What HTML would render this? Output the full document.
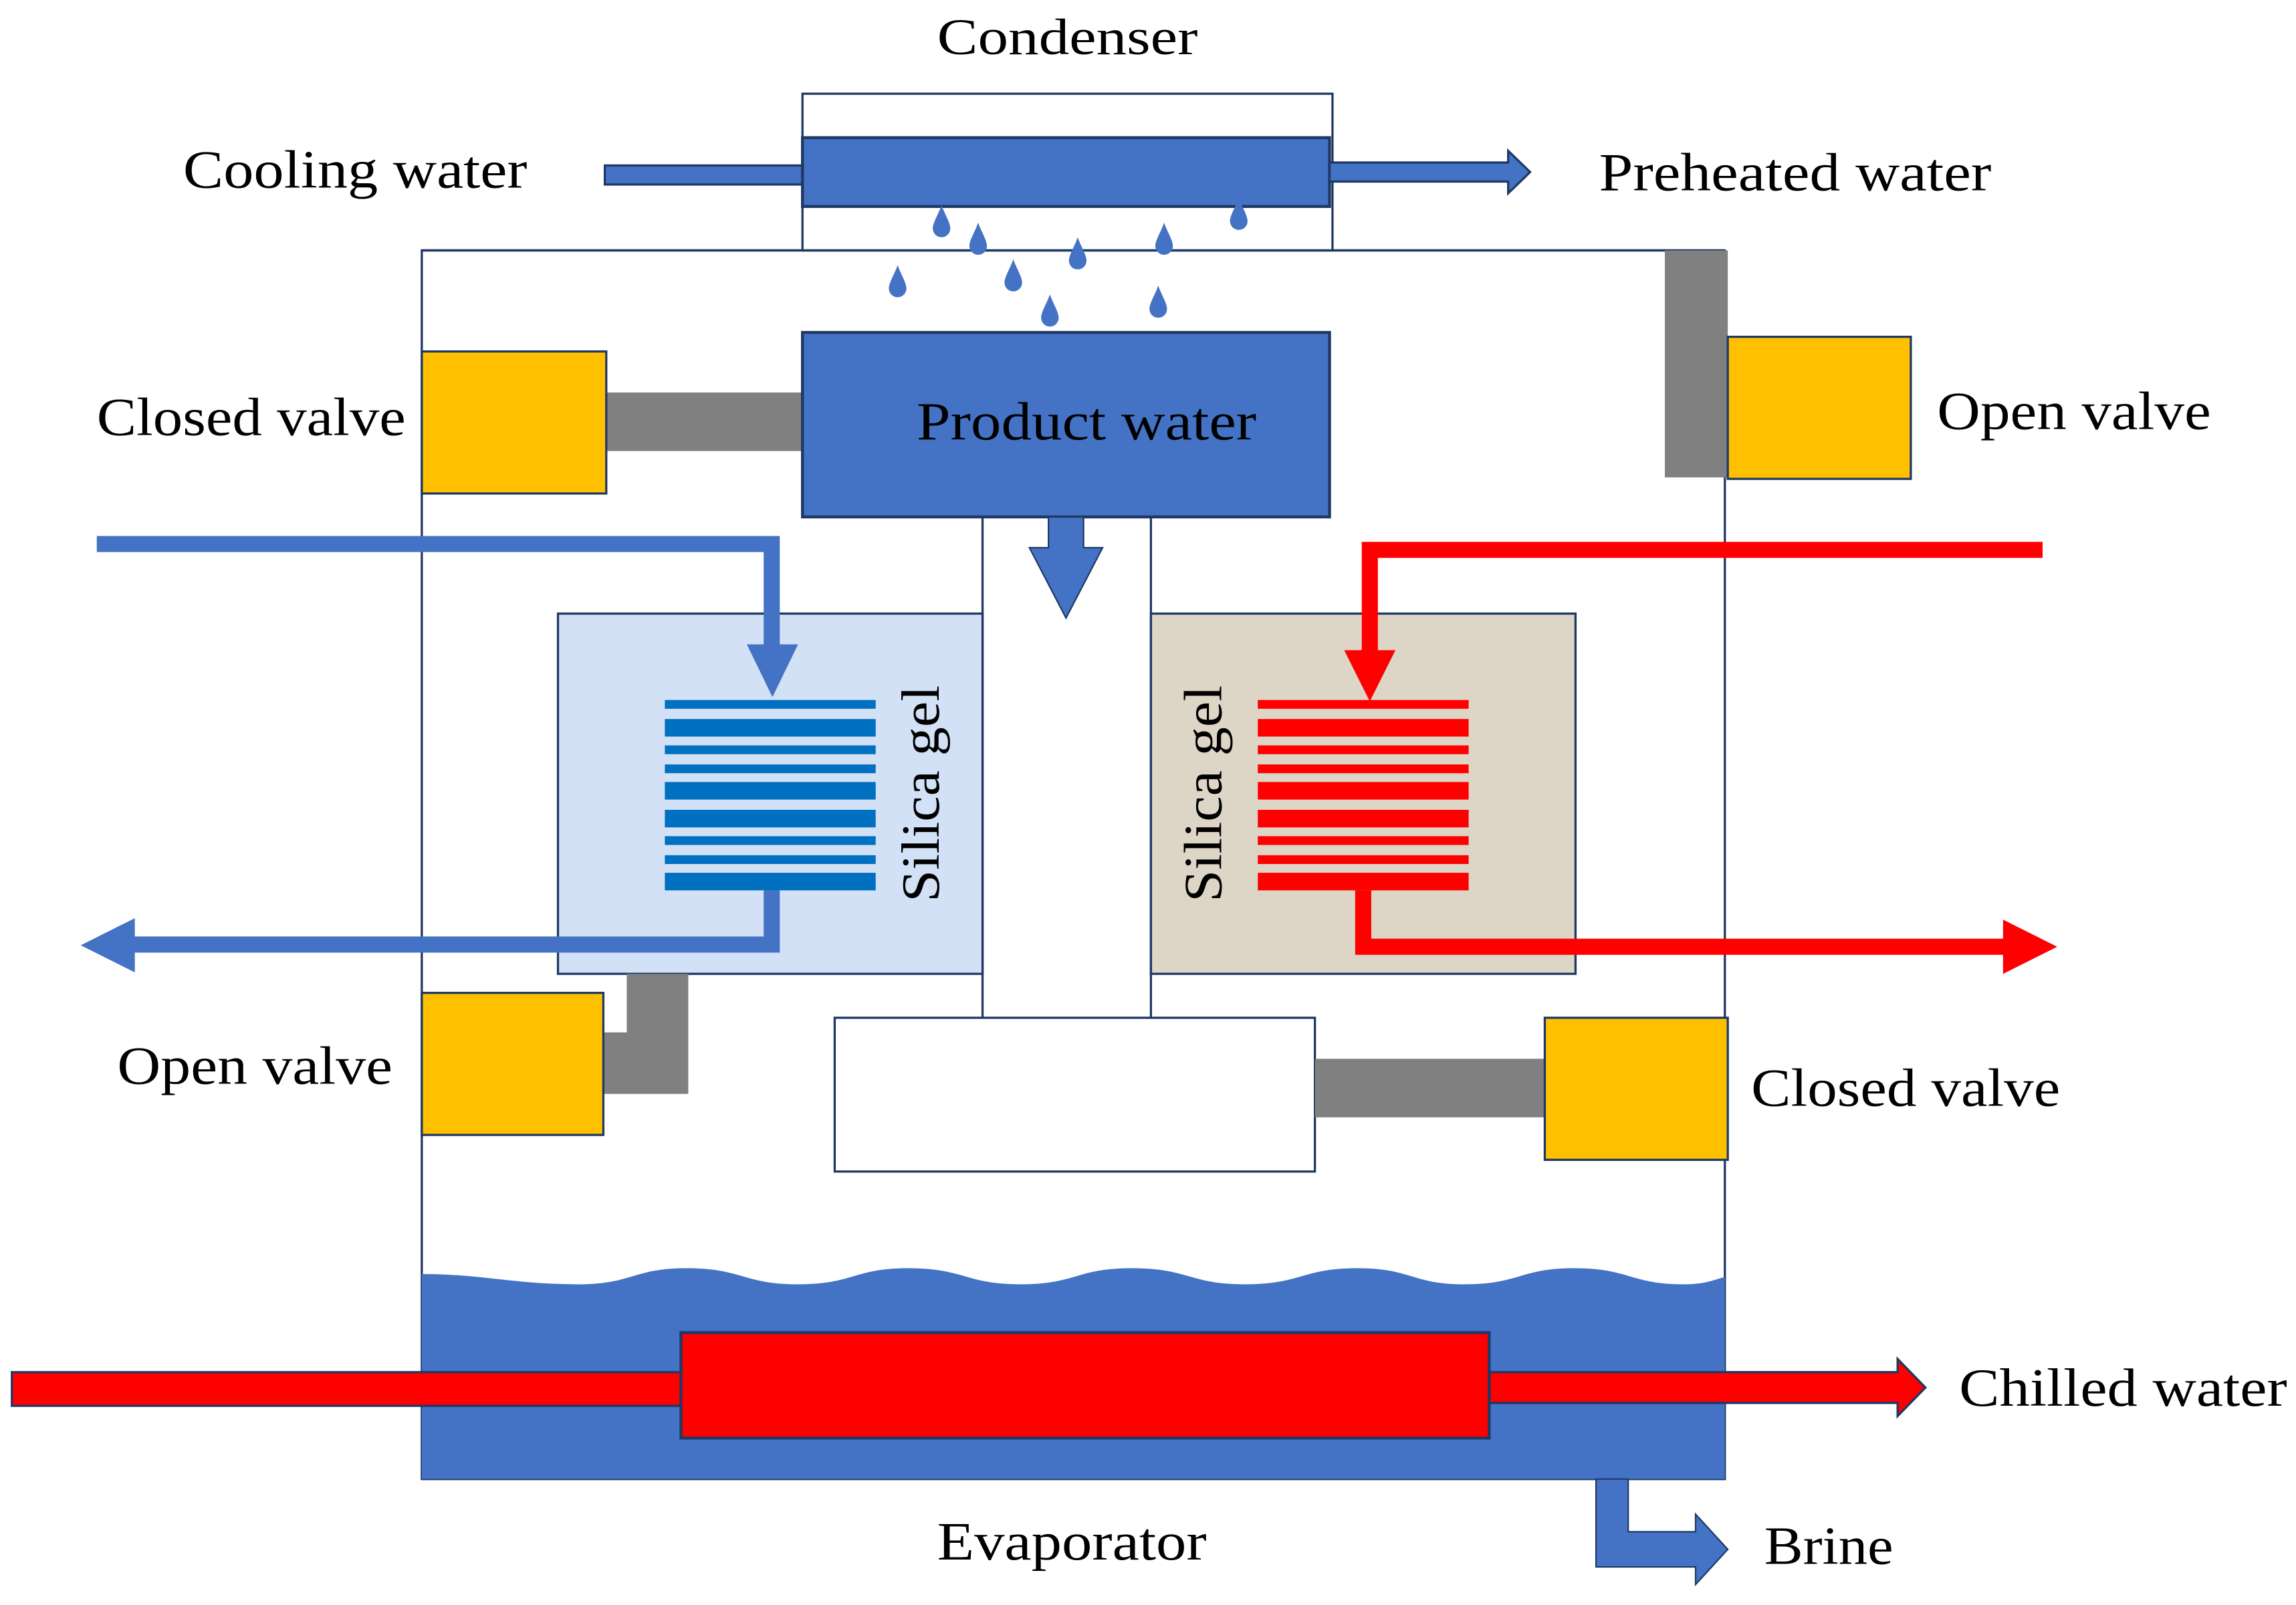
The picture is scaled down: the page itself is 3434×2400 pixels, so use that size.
<!DOCTYPE html>
<html><head><meta charset="utf-8"><style>html,body{margin:0;padding:0;background:#fff}svg{display:block}text{font-family:"Liberation Serif",serif;fill:#000}</style></head><body>
<svg width="3434" height="2400" viewBox="0 0 1568 1096" xmlns="http://www.w3.org/2000/svg">
<defs>
<path id="drop" d="M0,-10 C2,-4 6,2 6,6 A6,6 0 0 1 -6,6 C-6,2 -2,-4 0,-10Z" fill="#4472C4"/>
</defs>
<rect width="1568" height="1096" fill="#fff"/>
<!-- main vessel -->
<rect x="288" y="171" width="890" height="839" fill="#fff" stroke="#1F3864" stroke-width="1.5"/>
<!-- condenser -->
<rect x="548" y="64" width="362" height="107" fill="#fff" stroke="#1F3864" stroke-width="1.5"/>
<rect x="413" y="113" width="136" height="13" fill="#4472C4" stroke="#1F3864" stroke-width="1.5"/>
<rect x="548" y="94" width="360" height="47" fill="#4472C4" stroke="#1F3864" stroke-width="2"/>
<path d="M908,111 H1030 V103 L1045,117.5 L1030,132 V124 H908Z" fill="#4472C4" stroke="#1F3864" stroke-width="1.5"/>
<line x1="288" y1="171" x2="1178" y2="171" stroke="#1F3864" stroke-width="1.5"/>
<text x="640" y="37" font-size="35" textLength="178" lengthAdjust="spacingAndGlyphs">Condenser</text>
<text x="125" y="128" font-size="37" textLength="235" lengthAdjust="spacingAndGlyphs">Cooling water</text>
<text x="1092" y="130" font-size="37" textLength="268" lengthAdjust="spacingAndGlyphs">Preheated water</text>
<!-- droplets -->
<use href="#drop" x="643" y="150"/><use href="#drop" x="668" y="162"/><use href="#drop" x="736" y="172"/>
<use href="#drop" x="795" y="162"/><use href="#drop" x="846" y="145"/><use href="#drop" x="613" y="191"/>
<use href="#drop" x="692" y="187"/><use href="#drop" x="717" y="211"/><use href="#drop" x="791" y="205"/>
<!-- product water -->
<rect x="414" y="268" width="134" height="40" fill="#808080"/>
<rect x="288" y="240" width="126" height="97" fill="#FFC000" stroke="#1F3864" stroke-width="1.5"/>
<rect x="548" y="227" width="360" height="126" fill="#4472C4" stroke="#1F3864" stroke-width="2"/>
<text x="626" y="300" font-size="37" textLength="232" lengthAdjust="spacingAndGlyphs">Product water</text>
<text x="66" y="297" font-size="37" textLength="211" lengthAdjust="spacingAndGlyphs">Closed valve</text>
<!-- top right valve -->
<rect x="1137" y="171" width="43" height="155" fill="#808080"/>
<rect x="1180" y="230" width="125" height="97" fill="#FFC000" stroke="#1F3864" stroke-width="1.5"/>
<text x="1323" y="293" font-size="37" textLength="187" lengthAdjust="spacingAndGlyphs">Open valve</text>
<!-- center channel -->
<line x1="671" y1="353" x2="671" y2="695" stroke="#1F3864" stroke-width="1.5"/>
<line x1="786" y1="353" x2="786" y2="695" stroke="#1F3864" stroke-width="1.5"/>
<path d="M716,353 H740 V374 H753 L728,422 L703,374 H716Z" fill="#4472C4" stroke="#1F3864" stroke-width="1"/>
<!-- silica boxes -->
<rect x="381" y="419" width="290" height="246" fill="#d3e1f6" stroke="#1F3864" stroke-width="1.5"/>
<rect x="786" y="419" width="290" height="246" fill="#ddd5c6" stroke="#1F3864" stroke-width="1.5"/>
<g fill="#0070C0">
<rect x="454" y="478" width="144" height="6"/><rect x="454" y="491" width="144" height="12"/><rect x="454" y="509" width="144" height="6"/>
<rect x="454" y="522" width="144" height="6"/><rect x="454" y="534" width="144" height="12"/><rect x="454" y="553" width="144" height="12"/>
<rect x="454" y="571" width="144" height="6"/><rect x="454" y="584" width="144" height="6"/><rect x="454" y="596" width="144" height="12"/>
</g>
<g fill="#FF0000">
<rect x="859" y="478" width="144" height="6"/><rect x="859" y="491" width="144" height="12"/><rect x="859" y="509" width="144" height="6"/>
<rect x="859" y="522" width="144" height="6"/><rect x="859" y="534" width="144" height="12"/><rect x="859" y="553" width="144" height="12"/>
<rect x="859" y="571" width="144" height="6"/><rect x="859" y="584" width="144" height="6"/><rect x="859" y="596" width="144" height="12"/>
</g>
<text transform="translate(641,616) rotate(-90)" font-size="37" textLength="148" lengthAdjust="spacingAndGlyphs">Silica gel</text>
<text transform="translate(834,616) rotate(-90)" font-size="37" textLength="148" lengthAdjust="spacingAndGlyphs">Silica gel</text>
<!-- blue pipes -->
<path d="M66,371.5 H527 V460" fill="none" stroke="#4472C4" stroke-width="11"/>
<path d="M510,440 H545 L527.5,476Z" fill="#4472C4"/>
<path d="M527,608 V645 H88" fill="none" stroke="#4472C4" stroke-width="11"/>
<path d="M92,627 V664 L55,645.5Z" fill="#4472C4"/>
<!-- red pipes -->
<path d="M1395,375.5 H935.5 V455" fill="none" stroke="#FF0000" stroke-width="11"/>
<path d="M918,444 H953 L935.5,479Z" fill="#FF0000"/>
<path d="M931,608 V646.5 H1372" fill="none" stroke="#FF0000" stroke-width="11"/>
<path d="M1368,628 V665 L1405,646.5Z" fill="#FF0000"/>
<!-- bottom left valve -->
<path d="M428,665 H470 V747 H412 V705 H428Z" fill="#808080"/>
<rect x="288" y="678" width="124" height="97" fill="#FFC000" stroke="#1F3864" stroke-width="1.5"/>
<text x="80" y="740" font-size="37" textLength="188" lengthAdjust="spacingAndGlyphs">Open valve</text>
<!-- bottom center -->
<rect x="570" y="695" width="328" height="105" fill="#fff" stroke="#1F3864" stroke-width="1.5"/>
<rect x="898" y="723" width="157" height="40" fill="#808080"/>
<rect x="1055" y="695" width="125" height="97" fill="#FFC000" stroke="#1F3864" stroke-width="1.5"/>
<text x="1196" y="755" font-size="37" textLength="211" lengthAdjust="spacingAndGlyphs">Closed valve</text>
<!-- evaporator water -->
<path d="M288,870 C330,870 350,877 395,877 C432,877 432,866 469,866 C507,866 507,877 545,877 C583,877 583,866 620,866 C659,866 659,877 697,877 C735,877 735,866 773,866 C812,866 812,877 850,877 C889,877 889,866 927,866 C964,866 964,877 1000,877 C1038,877 1038,866 1075,866 C1113,866 1113,877 1150,877 C1165,877 1170,874 1178,872 V1010 H288Z" fill="#4472C4"/>
<rect x="8" y="937" width="458" height="23" fill="#FF0000" stroke="#1F3864" stroke-width="1.5"/>
<path d="M1017,937 H1296 V928 L1315,947.5 L1296,967 V958 H1017Z" fill="#FF0000" stroke="#1F3864" stroke-width="1.5"/>
<rect x="465" y="910" width="552" height="72" fill="#FF0000" stroke="#1F3864" stroke-width="2"/>
<text x="1338" y="960" font-size="37" textLength="224" lengthAdjust="spacingAndGlyphs">Chilled water</text>
<!-- brine -->
<path d="M1090,1010 H1112 V1046 H1158 V1034 L1180,1058 L1158,1082 V1070 H1090Z" fill="#4472C4" stroke="#1F3864" stroke-width="1"/>
<text x="1205" y="1068" font-size="37" textLength="88" lengthAdjust="spacingAndGlyphs">Brine</text>
<text x="640" y="1065" font-size="37" textLength="184" lengthAdjust="spacingAndGlyphs">Evaporator</text>
</svg>
</body></html>
